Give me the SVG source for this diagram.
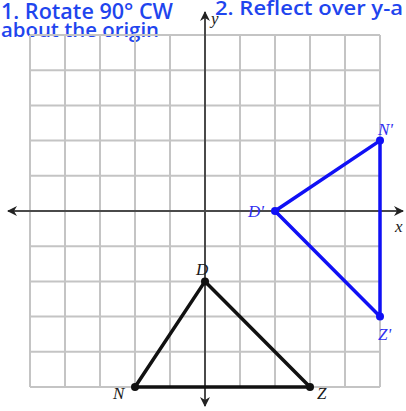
<svg xmlns="http://www.w3.org/2000/svg" width="406" height="411" viewBox="0 0 406 411">
<style>
.grid line{stroke:#c4c4c4;stroke-width:2}
.axis{stroke:#4a4a4a;stroke-width:2;fill:none}
.hand{font-family:"Open Sans","Liberation Sans",sans-serif;fill:#1f45ee;font-weight:600}
.lbl{font-family:"Liberation Serif",serif;font-style:italic;font-size:17px}
.blk{fill:#1a1a1a}
.blu{fill:#3030f0}
.tri{fill:none;stroke-width:3.5;stroke-linejoin:round}
</style>
<defs>
<marker id="ah" viewBox="0 0 10 10" refX="9" refY="5" markerWidth="5" markerHeight="5" orient="auto">
<path d="M0,0 L10,5 L0,10 L3,5 Z" fill="#222"/>
</marker>
</defs>
<rect width="406" height="411" fill="#fff"/>
<g id="notes">
<text class="hand" x="1" y="19" font-size="21" textLength="172" lengthAdjust="spacingAndGlyphs">1. Rotate 90° CW</text>
<text class="hand" x="1" y="37" font-size="20" textLength="158" lengthAdjust="spacingAndGlyphs">about the origin</text>
<text class="hand" x="215" y="15" font-size="19" textLength="188" lengthAdjust="spacingAndGlyphs">2. Reflect over y-a</text>
</g>
<g class="grid" id="grid">
<line x1="30" y1="35" x2="30" y2="387"/>
<line x1="65" y1="35" x2="65" y2="387"/>
<line x1="100" y1="35" x2="100" y2="387"/>
<line x1="135" y1="35" x2="135" y2="387"/>
<line x1="170" y1="35" x2="170" y2="387"/>
<line x1="240" y1="35" x2="240" y2="387"/>
<line x1="275" y1="35" x2="275" y2="387"/>
<line x1="310" y1="35" x2="310" y2="387"/>
<line x1="345" y1="35" x2="345" y2="387"/>
<line x1="380" y1="35" x2="380" y2="387"/>
<line x1="30" y1="35" x2="380" y2="35"/>
<line x1="30" y1="70.2" x2="380" y2="70.2"/>
<line x1="30" y1="105.4" x2="380" y2="105.4"/>
<line x1="30" y1="140.6" x2="380" y2="140.6"/>
<line x1="30" y1="175.8" x2="380" y2="175.8"/>
<line x1="30" y1="246.2" x2="380" y2="246.2"/>
<line x1="30" y1="281.4" x2="380" y2="281.4"/>
<line x1="30" y1="316.6" x2="380" y2="316.6"/>
<line x1="30" y1="351.8" x2="380" y2="351.8"/>
<line x1="30" y1="387" x2="380" y2="387"/>
</g>
<g id="axes">
<line class="axis" x1="205" y1="211" x2="8" y2="211" marker-end="url(#ah)"/>
<line class="axis" x1="205" y1="211" x2="403" y2="211" marker-end="url(#ah)"/>
<line class="axis" x1="205" y1="211" x2="205" y2="12" marker-end="url(#ah)"/>
<line class="axis" x1="205" y1="211" x2="205" y2="406" marker-end="url(#ah)"/>
<text class="lbl blk" x="211" y="24">y</text>
<text class="lbl blk" x="395" y="232">x</text>
</g>
<g id="connectors">
<polygon class="tri" stroke="#111" points="205,281.4 135,387 310,387"/>
<polygon class="tri" stroke="#1010f5" points="275,211 380,140.6 380,316.6"/>
</g>
<g id="D"><circle cx="205" cy="281.4" r="4" fill="#111"/><text class="lbl blk" x="196" y="275">D</text></g>
<g id="N"><circle cx="135" cy="387" r="4" fill="#111"/><text class="lbl blk" x="113" y="399">N</text></g>
<g id="Z"><circle cx="310" cy="387" r="4" fill="#111"/><text class="lbl blk" x="317" y="399">Z</text></g>
<g id="Dp"><circle cx="275" cy="211" r="4" fill="#1010f5"/><text class="lbl blu" x="248" y="217">D'</text></g>
<g id="Np"><circle cx="380" cy="140.6" r="4" fill="#1010f5"/><text class="lbl blu" x="378" y="135">N'</text></g>
<g id="Zp"><circle cx="380" cy="316.6" r="4" fill="#1010f5"/><text class="lbl blu" x="378" y="340">Z'</text></g>
</svg>
